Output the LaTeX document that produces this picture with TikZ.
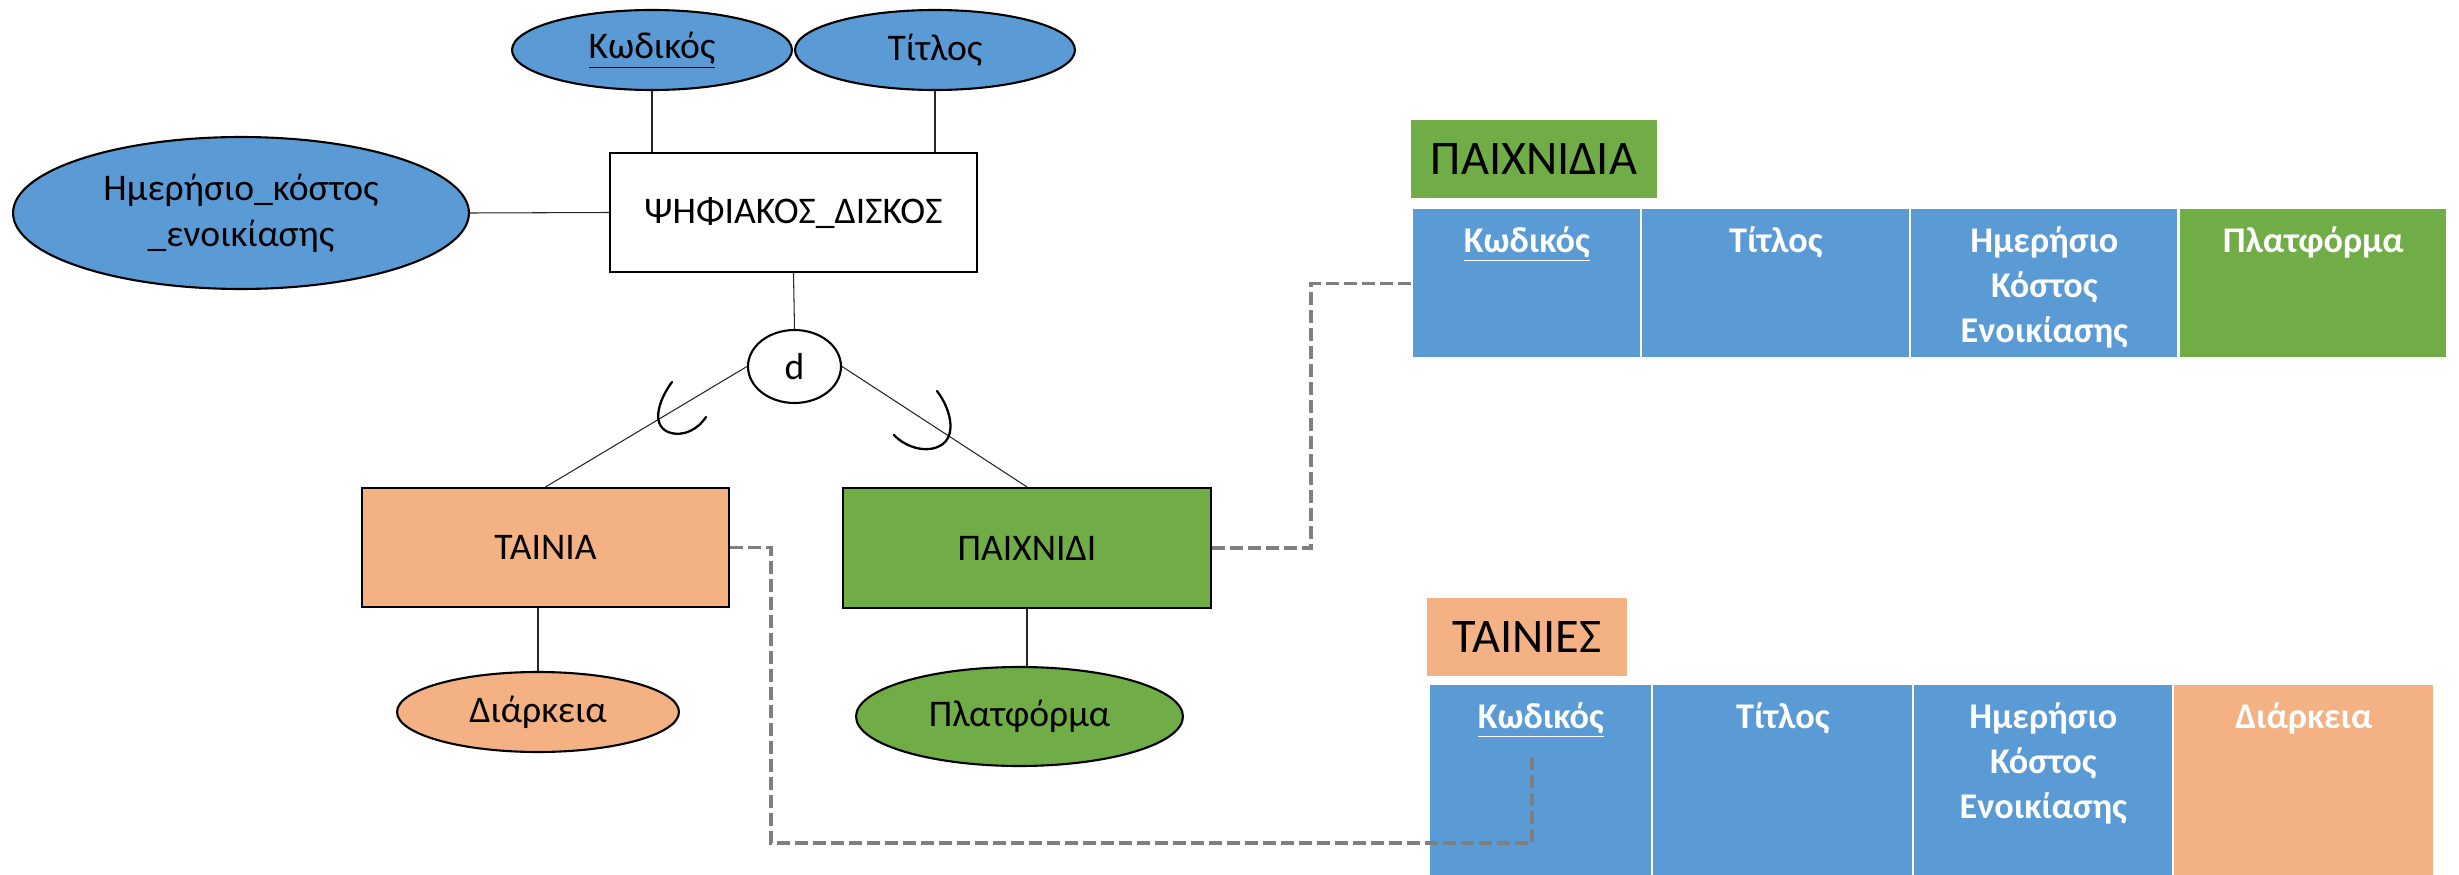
\documentclass[tikz,border=0pt]{standalone}
\usepackage{fontspec}
\setmainfont{Carlito}
\usetikzlibrary{shapes.geometric}
\definecolor{attrblue}{HTML}{5B9BD5}
\definecolor{filmorange}{HTML}{F4B183}
\definecolor{gamegreen}{HTML}{70AD47}
\definecolor{fkgray}{HTML}{7F7F7F}
% invisible strut fixing the first baseline of a column header
\newcommand{\cellstrut}{\rule{0pt}{24.5pt}}

\begin{document}
\begin{tikzpicture}[x=0.02cm,y=-0.02cm,
  erfont/.style={font=\fontsize{21.4}{26}\selectfont},
  entity/.style={draw=black, line width=1.2pt, rectangle, erfont,
    minimum width=7.34cm, minimum height=2.38cm, inner sep=0pt},
  attr/.style={draw=black, line width=1.2pt, ellipse, erfont, inner sep=0pt, align=center},
  conn/.style={line width=0.6pt, draw=black!85},
  subsetarc/.style={line width=1.3pt, line cap=round},
  fk/.style={draw=fkgray, line width=2pt, dash pattern=on 7.4pt off 2.85pt},
  cell/.style={rectangle, inner sep=0pt, anchor=north west},
  hdr/.style={text=white, font=\fontsize{20.6}{25.6}\selectfont\bfseries,
    align=center, inner sep=0pt, anchor=north},
  tabtitle/.style={rectangle, inner sep=0pt, font=\fontsize{27.5}{32}\selectfont,
    minimum height=1.56cm}
]
\useasboundingbox (0,0) rectangle (2459,875);

% ---------------- ER diagram ----------------
\node[attr, fill=attrblue, minimum width=5.6cm, minimum height=1.6cm] (kod) at (652,50) {\underline{Κωδικός}};
\node[attr, fill=attrblue, minimum width=5.6cm, minimum height=1.6cm] (tit) at (935,50) {Τίτλος};
\node[attr, fill=attrblue, minimum width=9.12cm, minimum height=3.04cm] (hmer) at (241,213) {Ημερήσιο\_κόστος\\\_ενοικίασης};
\node[entity, fill=white] (disk) at (793.5,212.5) {ΨΗΦΙΑΚΟΣ\_ΔΙΣΚΟΣ};
\node[attr, fill=white, minimum width=1.86cm, minimum height=1.46cm] (dj) at (794.5,366.5) {d};
\node[entity, fill=filmorange] (tainia) at (545.5,547.5) {ΤΑΙΝΙΑ};
\node[entity, fill=gamegreen, minimum width=7.36cm, minimum height=2.4cm] (paix) at (1027,548) {ΠΑΙΧΝΙΔΙ};
\node[attr, fill=filmorange, minimum width=5.64cm, minimum height=1.6cm] (diark) at (538,712) {Διάρκεια};
\node[attr, fill=gamegreen, minimum width=6.54cm, minimum height=1.98cm] (platf) at (1019.5,716.5) {Πλατφόρμα};

\draw[conn] (kod.south) -- (kod.south |- disk.north);
\draw[conn] (tit.south) -- (tit.south |- disk.north);
\draw[conn] (hmer.east) -- (disk.west);
\draw[conn] (disk.south) -- (dj.north);
\draw[conn] (dj.west) -- (tainia.north);
\draw[conn] (dj.east) -- (paix.north);
\draw[conn] (diark.north) -- (diark.north |- tainia.south);
\draw[conn] (paix.south) -- (paix.south |- platf.north);

% subset marks on the specialisation lines
\draw[subsetarc] (672,382) .. controls (660,398) and (650,424) .. (668,432)
  .. controls (684,438) and (699,428) .. (706,417);
\draw[subsetarc] (937,391) .. controls (950,408) and (956,432) .. (944,443)
  .. controls (930,455) and (906,448) .. (894,435);

% ---------------- relational tables ----------------
\node[tabtitle, fill=gamegreen, minimum width=4.92cm] (tgames) at (1534,159) {ΠΑΙΧΝΙΔΙΑ};
\node[cell, fill=attrblue, minimum width=4.54cm, minimum height=2.96cm] (p1) at (1413,209) {};
\node[cell, fill=attrblue, minimum width=5.34cm, minimum height=2.96cm] (p2) at (1642,209) {};
\node[cell, fill=attrblue, minimum width=5.32cm, minimum height=2.96cm] (p3) at (1911,209) {};
\node[cell, fill=gamegreen, minimum width=5.32cm, minimum height=2.96cm] (p4) at (2180,209) {};
\node[hdr] (p1t) at (p1.north) {\cellstrut\underline{Κωδικός}};
\node[hdr] (p2t) at (p2.north) {\cellstrut Τίτλος};
\node[hdr] (p3t) at (p3.north) {\cellstrut Ημερήσιο\\Κόστος\\Ενοικίασης};
\node[hdr] (p4t) at (p4.north) {\cellstrut Πλατφόρμα};

\node[tabtitle, fill=filmorange, minimum width=4.0cm] (tfilms) at (1527,637) {ΤΑΙΝΙΕΣ};
\node[cell, fill=attrblue, minimum width=4.42cm, minimum height=3.9cm] (f1) at (1430,685) {};
\node[cell, fill=attrblue, minimum width=5.18cm, minimum height=3.9cm] (f2) at (1653,685) {};
\node[cell, fill=attrblue, minimum width=5.16cm, minimum height=3.9cm] (f3) at (1914,685) {};
\node[cell, fill=filmorange, minimum width=5.18cm, minimum height=3.9cm] (f4) at (2174,685) {};
\node[hdr] (f1t) at (f1.north) {\cellstrut\underline{Κωδικός}};
\node[hdr] (f2t) at (f2.north) {\cellstrut Τίτλος};
\node[hdr] (f3t) at (f3.north) {\cellstrut Ημερήσιο\\Κόστος\\Ενοικίασης};
\node[hdr] (f4t) at (f4.north) {\cellstrut Διάρκεια};

% ---------------- mapping links ----------------
\coordinate (gbend) at (1311,0);
\draw[fk] (paix.east) -| (gbend |- p1.west) -- (p1.west);
\coordinate (fbend) at (771,843);
\coordinate (fend) at (1532,753);
\draw[fk] (tainia.east) -| (fbend) -| (fend);
\end{tikzpicture}
\end{document}
